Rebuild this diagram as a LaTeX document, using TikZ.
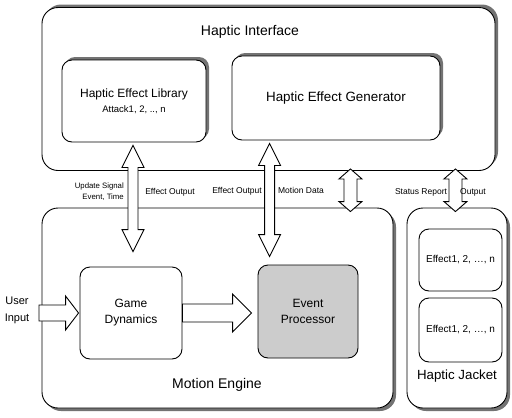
\documentclass[tikz,border=0pt]{standalone}
\usepackage{fontspec}
\setmainfont{Liberation Sans}
\usetikzlibrary{calc,shadows}

\tikzset{
  panel/.style={draw, line width=0.9pt, rounded corners=16pt, fill=white, inner sep=0pt},
  module/.style={draw, line width=0.9pt, rounded corners=10pt, fill=white, inner sep=0pt, align=center},
  upshadow/.style={general shadow={fill=black!55, shadow xshift=3pt, shadow yshift=3pt}},
  downshadow/.style={general shadow={fill=black!55, shadow xshift=3pt, shadow yshift=-3pt}},
  blockarrow/.style={draw, line width=0.9pt, fill=white, line join=miter},
  title/.style={font=\fontsize{14}{16}\selectfont, inner sep=0pt},
  tag/.style={font=\fontsize{8.5}{10}\selectfont, inner sep=0pt, align=center},
}

% double headed block arrow: top tip, bottom tip, shaft, head, head length
\newcommand{\vdblarrow}[5]{%
  \draw[blockarrow] let \p1=(#1), \p2=(#2) in
    (\x1,\y1) -- (\x1+#4pt,\y1-#5pt) -- (\x1+#3pt,\y1-#5pt) -- (\x1+#3pt,\y2+#5pt)
    -- (\x1+#4pt,\y2+#5pt) -- (\x1,\y2) -- (\x1-#4pt,\y2+#5pt) -- (\x1-#3pt,\y2+#5pt)
    -- (\x1-#3pt,\y1-#5pt) -- (\x1-#4pt,\y1-#5pt) -- cycle;}
% single block arrow to the right: tail, tip, shaft, head, head length
\newcommand{\hblkarrow}[5]{%
  \draw[blockarrow] let \p1=(#1), \p2=(#2) in
    (\x1,\y1+#3pt) -- (\x2-#5pt,\y1+#3pt) -- (\x2-#5pt,\y1+#4pt) -- (\x2,\y1)
    -- (\x2-#5pt,\y1-#4pt) -- (\x2-#5pt,\y1-#3pt) -- (\x1,\y1-#3pt) -- cycle;}

\begin{document}
\begin{tikzpicture}[x=1pt,y=-1pt]
  \useasboundingbox (0,0) rectangle (512,418);

  % haptic interface
  \node[panel, upshadow, minimum width=453, minimum height=163] (hi) at (268.5,89) {};
  \node[title] (hititle) at (250,32) {Haptic Interface};
  \node[module, upshadow, minimum width=144, minimum height=82] (lib) at (134,101)
    {\fontsize{12}{14}\selectfont Haptic Effect Library\\[3pt]\fontsize{9.5}{11}\selectfont Attack1, 2, .., n};
  \node[module, upshadow, minimum width=208, minimum height=84] (gen) at (336,98)
    {\fontsize{13.4}{15}\selectfont Haptic Effect Generator};

  % motion engine
  \node[panel, downshadow, minimum width=351, minimum height=200] (me) at (217.5,308) {};
  \node[title] (metitle) at (217,385) {Motion Engine};
  \node[module, minimum width=102, minimum height=92, font=\fontsize{12}{16}\selectfont] (gd) at (131,313) {Game\\Dynamics};
  \node[module, fill=black!20, minimum width=100, minimum height=93, font=\fontsize{12}{16}\selectfont] (ep) at (308,311.5) {Event\\Processor};

  % haptic jacket
  \node[panel, downshadow, minimum width=100, minimum height=200] (hj) at (457,308) {};
  \node[title, font=\fontsize{13.3}{15}\selectfont] (hjtitle) at (457,376) {Haptic Jacket};
  \node[module, minimum width=83, minimum height=62, font=\fontsize{10}{12}\selectfont] (fx1) at (460.5,260) {Effect1, 2, \ldots, n};
  \node[module, minimum width=83, minimum height=64, font=\fontsize{10}{12}\selectfont] (fx2) at (460.5,330) {Effect1, 2, \ldots, n};

  % user input
  \node[font=\fontsize{11}{17}\selectfont, align=center, inner sep=0pt] (user) at (17,310) {User\\Input};
  \coordinate (usertail) at (39,313);

  % block arrows
  \hblkarrow{usertail}{$(gd.west)+(-1,0)$}{8}{17}{13}
  \hblkarrow{gd.east}{$(ep.west)+(-6,0)$}{9}{19}{19}
  \vdblarrow{$(lib.south)+(-1,3)$}{$(gd.north)+(0,-15)$}{5}{11}{22}
  \vdblarrow{$(gen.south west)+(38,3)$}{$(ep.north)+(0,-8)$}{5}{11}{22}
  \vdblarrow{$(hi.south east)+(-145,-2)$}{$(me.north east)+(0,4)$}{6.5}{11.5}{10}
  \vdblarrow{$(hi.south east)+(-40,-2)$}{$(hj.north)+(0,4)$}{6.5}{11.5}{10}

  % arrow labels
  \node[tag, font=\fontsize{7.8}{11}\selectfont, align=right, anchor=east] (upd) at (124,192) {Update Signal\\Event, Time};
  \node[tag] (fxout1) at (170,192) {Effect Output};
  \node[tag] (fxout2) at (237,191) {Effect Output};
  \node[tag] (motion) at (301,190) {Motion Data};
  \node[tag] (status) at (421,192) {Status Report};
  \node[tag] (output) at (473,192) {Output};
\end{tikzpicture}
\end{document}
